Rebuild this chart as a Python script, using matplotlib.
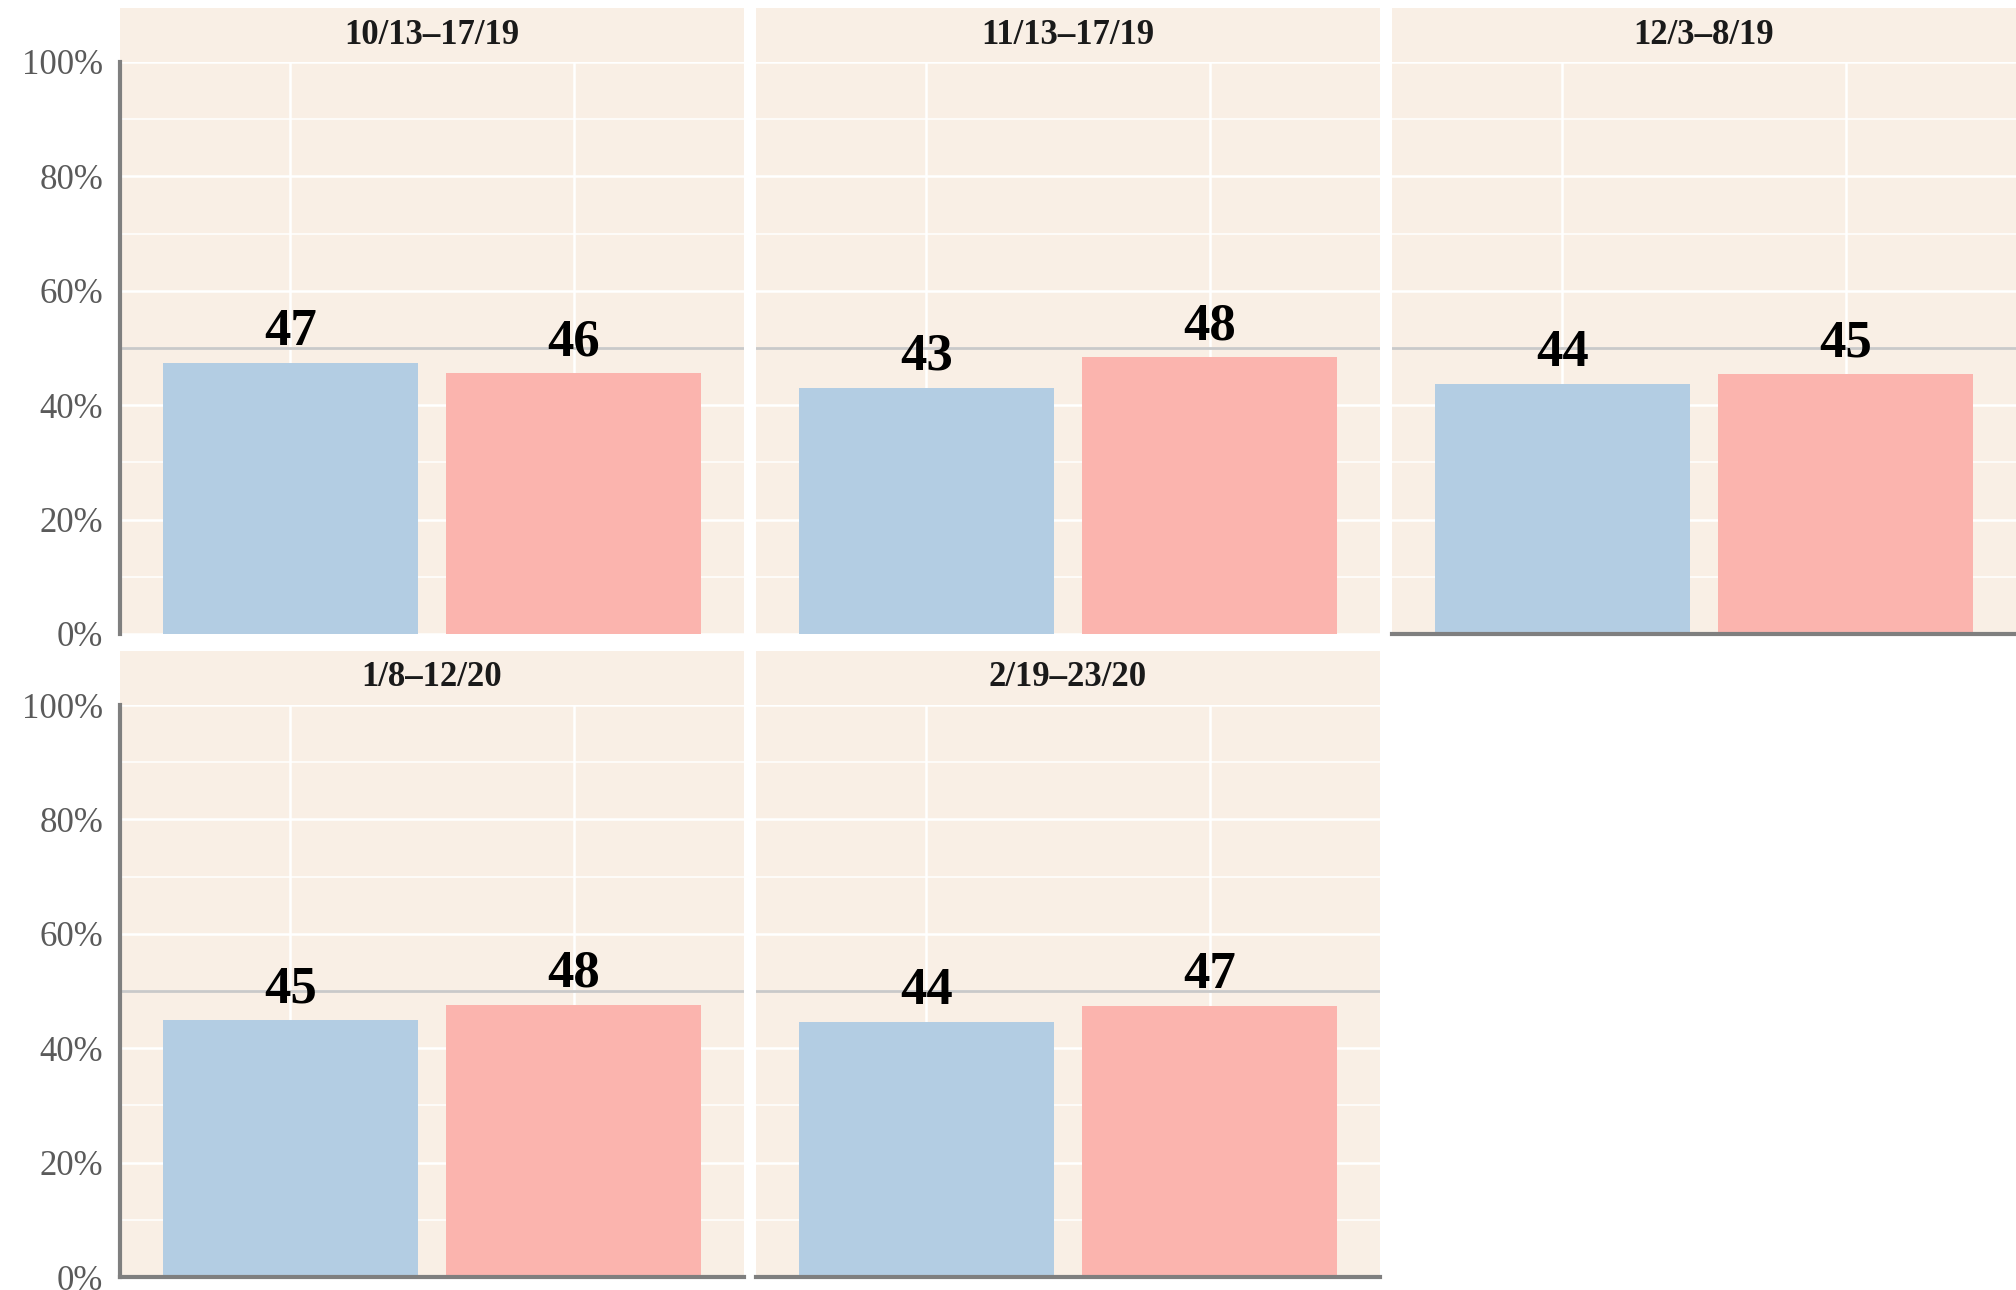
import matplotlib.pyplot as plt
from matplotlib.ticker import MultipleLocator, FuncFormatter

plt.rcParams["font.family"] = ["Liberation Serif", "DejaVu Serif"]

# poll periods (facet titles)
periods = ["10/13\u201317/19", "11/13\u201317/19", "12/3\u20138/19", "1/8\u201312/20", "2/19\u201323/20"]
# two groups per period
groups = ["A", "B"]
values_a = [47.3, 43.0, 43.7, 44.9, 44.5]
values_b = [45.6, 48.4, 45.4, 47.6, 47.3]
labels_a = ["47", "43", "44", "45", "44"]
labels_b = ["46", "48", "45", "48", "47"]

BG = "#f9efe5"
COLORS = ["#b3cde3", "#fbb4ae"]
AXIS_GREY = "#7f7f7f"

W, H = 2016, 1290
fig = plt.figure(figsize=(W / 100, H / 100), dpi=100)

col_left = [120, 756, 1392]
col_width = 624
row_top = [62, 705]
panel_h = 572
strip_h = 54


def fx(px):
    return px / W


def fy(py):
    return 1 - py / H


for i, period in enumerate(periods):
    row, col = divmod(i, 3)
    left = col_left[col]
    top = row_top[row]

    # strip above the panel
    sax = fig.add_axes([fx(left), fy(top), fx(col_width), strip_h / H])
    sax.set_facecolor(BG)
    sax.set_xticks([])
    sax.set_yticks([])
    for sp in sax.spines.values():
        sp.set_visible(False)
    sax.text(0.5, 0.5, period, ha="center", va="center", fontsize=25,
             fontweight="bold", color="#1a1a1a", transform=sax.transAxes)

    ax = fig.add_axes([fx(left), fy(top + panel_h), fx(col_width), panel_h / H])
    ax.set_facecolor(BG)
    ax.set_xlim(-0.6, 1.6)
    ax.set_ylim(0, 100)

    ax.yaxis.set_major_locator(MultipleLocator(20))
    ax.yaxis.set_minor_locator(MultipleLocator(10))
    ax.set_xticks([0, 1])
    ax.grid(True, which="major", axis="both", color="white", lw=1.8, zorder=0)
    ax.grid(True, which="minor", axis="y", color="white", lw=1.1, zorder=0)
    ax.set_axisbelow(True)
    ax.tick_params(which="both", length=0)
    ax.set_xticklabels([])

    ax.axhline(50, color="#c9c9c9", lw=2.0, zorder=1)

    vals = [values_a[i], values_b[i]]
    labs = [labels_a[i], labels_b[i]]
    bars = ax.bar([0, 1], vals, width=0.9, color=COLORS, zorder=2)
    for bar, lab in zip(bars, labs):
        ax.annotate(lab, (bar.get_x() + bar.get_width() / 2, bar.get_height()),
                    xytext=(0, 13), textcoords="offset points",
                    ha="center", va="baseline", fontsize=38, fontweight="bold",
                    color="black", zorder=3)

    for sp in ax.spines.values():
        sp.set_visible(False)

    if col == 0:
        ax.spines["left"].set_visible(True)
        ax.spines["left"].set_color(AXIS_GREY)
        ax.spines["left"].set_linewidth(3.0)
        ax.yaxis.set_major_formatter(FuncFormatter(lambda v, _: f"{v:.0f}%"))
        ax.tick_params(axis="y", labelsize=25, labelcolor="#5a5a5a", pad=12)
    else:
        ax.set_yticklabels([])

    # bottom axis line where no panel sits below
    if row == 1 or i + 3 >= len(periods):
        ax.spines["bottom"].set_visible(True)
        ax.spines["bottom"].set_color(AXIS_GREY)
        ax.spines["bottom"].set_linewidth(3.0)

fig.savefig("out.png", dpi=100, facecolor="white")
